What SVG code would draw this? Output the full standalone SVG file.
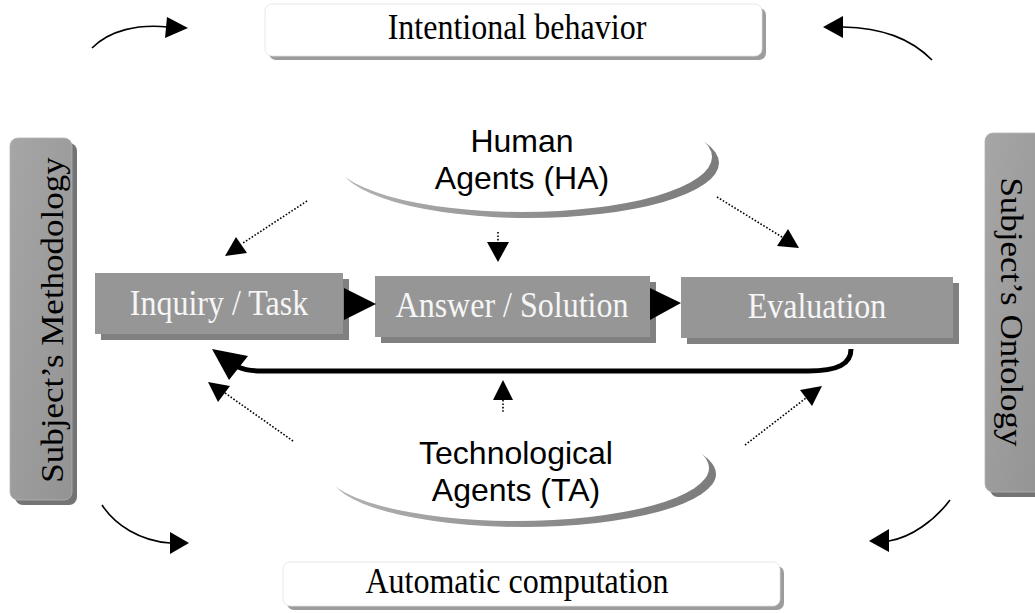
<svg xmlns="http://www.w3.org/2000/svg" width="1035" height="613" viewBox="0 0 1035 613">
  <style>
    .serif { font-family: "Liberation Serif", "Times New Roman", serif; font-size: 35px; text-anchor: middle; }
    .sans { font-family: "Liberation Sans", Arial, sans-serif; font-size: 32px; fill: #000; text-anchor: middle; }
    .white-box { fill: #ffffff; stroke: #e2e2e2; stroke-width: 0.8; }
    .white-shadow { fill: #9c9c9c; }
    .step { fill: #969696; }
    .step-shadow { fill: #808080; }
    .step-text { fill: #f6f6f6; }
    .side { fill: url(#sideFill); stroke: #b4b4b4; stroke-width: 0.8; }
    .side-shadow { fill: #747474; }
    .agent-shadow { fill: url(#agentShade); }
    .agent { fill: #ffffff; }
    .curve { fill: none; stroke: #000; stroke-width: 1.6; }
    .dotted { fill: none; stroke: #000; stroke-width: 1.6; stroke-dasharray: 1.6 1.8; }
    .head { fill: #000; }
    .loop { fill: none; stroke: #000; stroke-width: 5; }
  </style>
  <defs>
    <linearGradient id="sideFill" x1="0" y1="0" x2="1" y2="1">
      <stop offset="0" stop-color="#a6a6a6"/>
      <stop offset="1" stop-color="#939393"/>
    </linearGradient>
    <linearGradient id="agentShade" x1="0" y1="0" x2="1" y2="0">
      <stop offset="0" stop-color="#b4b4b4"/>
      <stop offset="0.6" stop-color="#8a8a8a"/>
      <stop offset="1" stop-color="#7c7c7c"/>
    </linearGradient>
  </defs>

  <rect width="1035" height="613" fill="#ffffff"/>

  <!-- top label -->
  <g id="intentional-behavior">
    <rect class="white-shadow" x="269" y="8" width="497" height="52" rx="7"/>
    <rect class="white-box" x="265" y="4" width="497" height="52" rx="7"/>
    <text class="serif" transform="translate(517,39) scale(0.915,1)">Intentional behavior</text>
  </g>

  <!-- bottom label -->
  <g id="automatic-computation">
    <rect class="white-shadow" x="287" y="566" width="497" height="44" rx="7"/>
    <rect class="white-box" x="283" y="562" width="497" height="44" rx="7"/>
    <text class="serif" transform="translate(517,593) scale(0.915,1)">Automatic computation</text>
  </g>

  <!-- left side panel -->
  <g id="subjects-methodology">
    <rect class="side-shadow" x="15" y="143" width="62" height="362" rx="8"/>
    <rect class="side" x="10" y="138" width="62" height="362" rx="8"/>
    <text class="serif" transform="translate(63,320) rotate(-90) scale(1,0.915)">Subject’s Methodology</text>
  </g>

  <!-- right side panel -->
  <g id="subjects-ontology">
    <rect class="side-shadow" x="990" y="138" width="60" height="359" rx="8"/>
    <rect class="side" x="985" y="133" width="60" height="359" rx="8"/>
    <text class="serif" transform="translate(1001,312) rotate(90) scale(1,0.915)">Subject’s Ontology</text>
  </g>

  <!-- human agents -->
  <g id="human-agents">
    <ellipse class="agent-shadow" cx="529" cy="163" rx="190" ry="55"/>
    <ellipse class="agent" cx="522" cy="157" rx="190" ry="55"/>
    <text class="sans" x="522" y="152">Human</text>
    <text class="sans" x="522" y="189">Agents (HA)</text>
  </g>

  <!-- technological agents -->
  <g id="technological-agents">
    <ellipse class="agent-shadow" cx="523" cy="474" rx="193" ry="53"/>
    <ellipse class="agent" cx="516" cy="468" rx="193" ry="53"/>
    <text class="sans" x="516" y="464">Technological</text>
    <text class="sans" x="516" y="501">Agents (TA)</text>
  </g>

  <!-- process steps -->
  <g id="inquiry-task">
    <rect class="step-shadow" x="101" y="279" width="248" height="61"/>
    <rect class="step" x="95" y="273" width="248" height="61"/>
    <text class="serif step-text" transform="translate(219,315) scale(0.915,1)">Inquiry / Task</text>
  </g>
  <g id="answer-solution">
    <rect class="step-shadow" x="381" y="282" width="275" height="61"/>
    <rect class="step" x="375" y="276" width="275" height="61"/>
    <text class="serif step-text" transform="translate(512,317) scale(0.915,1)">Answer / Solution</text>
  </g>
  <g id="evaluation">
    <rect class="step-shadow" x="687" y="283" width="272" height="61"/>
    <rect class="step" x="681" y="277" width="272" height="61"/>
    <text class="serif step-text" transform="translate(817,318) scale(0.915,1)">Evaluation</text>
  </g>

  <g id="connectors">
    <!-- sequence arrows -->
    <polygon class="head" points="344,288 376,304 344,320"/>
    <polygon class="head" points="650,288 681,303 650,320"/>

    <!-- feedback loop -->
    <path class="loop" d="M851 349 C851 364 838 371 808 371 L262 371 C252 371 245 370 238 367"/>
    <polygon class="head" points="212,349 248,356 229,380"/>

    <!-- human agents influence -->
    <line class="dotted" x1="307" y1="201" x2="243" y2="243"/>
    <polygon class="head" points="225,256 236,237 247,253"/>
    <line class="dotted" x1="498" y1="232" x2="498" y2="243"/>
    <polygon class="head" points="498,262 487,242 509,242"/>
    <line class="dotted" x1="717" y1="197" x2="782" y2="237"/>
    <polygon class="head" points="799,248 788,229 777,246"/>

    <!-- technological agents influence -->
    <line class="dotted" x1="293" y1="441" x2="225" y2="393"/>
    <polygon class="head" points="208,382 230,386 218,402"/>
    <line class="dotted" x1="503" y1="400" x2="503" y2="412"/>
    <polygon class="head" points="503,380 493,400 513,400"/>
    <line class="dotted" x1="745" y1="445" x2="806" y2="398"/>
    <polygon class="head" points="822,386 812,406 800,390"/>

    <!-- outer cycle -->
    <path class="curve" d="M92 48 C110 30 138 24 168 27"/>
    <polygon class="head" points="188,28 167,17 165,38"/>
    <path class="curve" d="M932 60 C910 38 882 28 843 27"/>
    <polygon class="head" points="823,27 843,16 843,38"/>
    <path class="curve" d="M102 505 C115 525 140 541 170 543"/>
    <polygon class="head" points="189,543 170,532 170,554"/>
    <path class="curve" d="M950 500 C935 520 912 537 889 541"/>
    <polygon class="head" points="869,541 889,529 889,552"/>
  </g>
</svg>
